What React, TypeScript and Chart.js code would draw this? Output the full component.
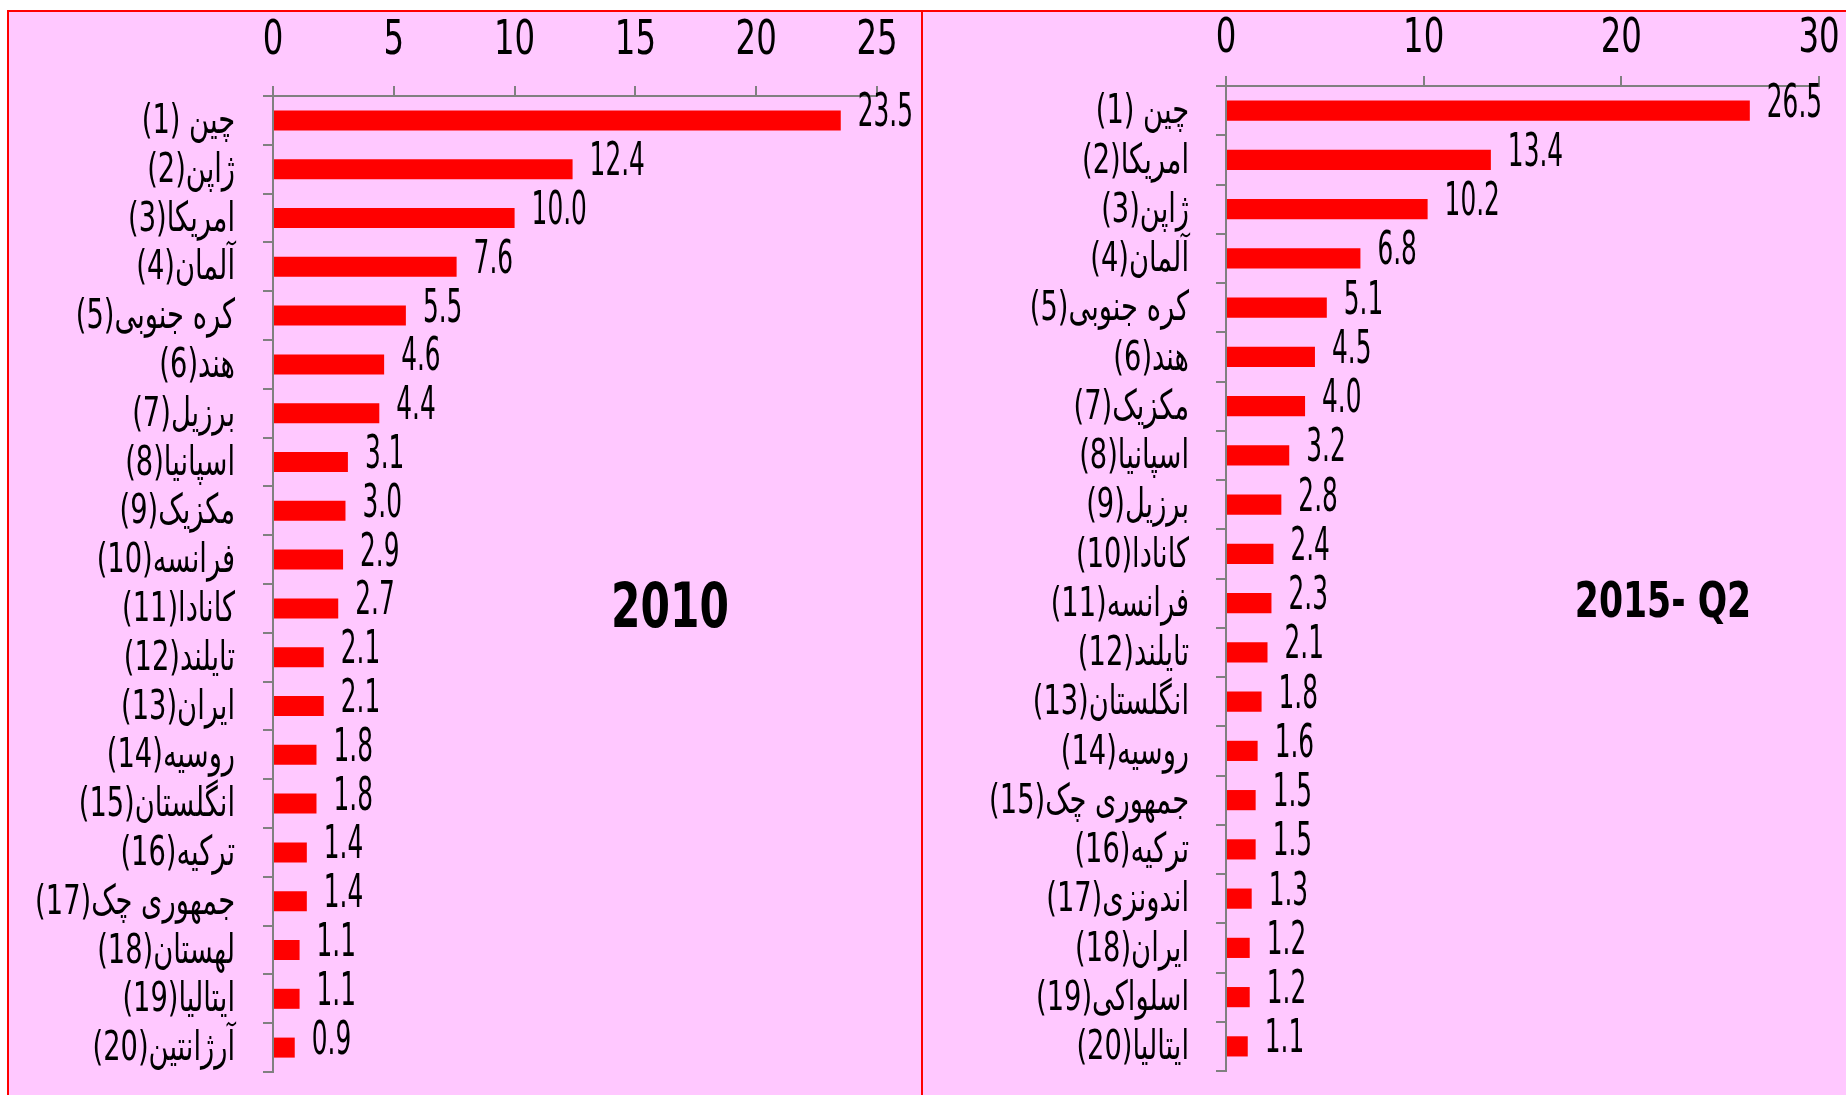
import React, { useEffect, useRef } from "react";
import { Chart, registerables } from "chart.js";

Chart.register(...registerables);

// ---- Data: 2010 ----
const categories2010 = [
  "(1) چین",
  "(2)ژاپن",
  "(3)امریکا",
  "(4)آلمان",
  "(5)کره جنوبی",
  "(6)هند",
  "(7)برزیل",
  "(8)اسپانیا",
  "(9)مکزیک",
  "(10)فرانسه",
  "(11)کانادا",
  "(12)تایلند",
  "(13)ایران",
  "(14)روسیه",
  "(15)انگلستان",
  "(16)ترکیه",
  "(17)جمهوری چک",
  "(18)لهستان",
  "(19)ایتالیا",
  "(20)آرژانتین",
];
const values2010 = [23.5, 12.4, 10.0, 7.6, 5.5, 4.6, 4.4, 3.1, 3.0, 2.9, 2.7, 2.1, 2.1, 1.8, 1.8, 1.4, 1.4, 1.1, 1.1, 0.9];
const axisMax2010 = 25;
const axisStep2010 = 5;

// ---- Data: 2015 Q2 ----
const categories2015 = [
  "(1) چین",
  "(2)امریکا",
  "(3)ژاپن",
  "(4)آلمان",
  "(5)کره جنوبی",
  "(6)هند",
  "(7)مکزیک",
  "(8)اسپانیا",
  "(9)برزیل",
  "(10)کانادا",
  "(11)فرانسه",
  "(12)تایلند",
  "(13)انگلستان",
  "(14)روسیه",
  "(15)جمهوری چک",
  "(16)ترکیه",
  "(17)اندونزی",
  "(18)ایران",
  "(19)اسلواکی",
  "(20)ایتالیا",
];
const values2015 = [26.5, 13.4, 10.2, 6.8, 5.1, 4.5, 4.0, 3.2, 2.8, 2.4, 2.3, 2.1, 1.8, 1.6, 1.5, 1.5, 1.3, 1.2, 1.2, 1.1];
const axisMax2015 = 30;
const axisStep2015 = 10;

const panelTitle2010 = "2010";
const panelTitle2015 = "2015- Q2";

const FONT = "'DejaVu Sans Condensed', 'DejaVu Sans', sans-serif";
const PINK = "#FFC8FF";
const AXIS_GRAY = "#808080";

function drawSqueezed(ctx: any, text: string, x: number, y: number, sx: number) {
  ctx.save();
  ctx.translate(x, y);
  ctx.scale(sx, 1);
  ctx.fillText(text, 0, 0);
  ctx.restore();
}

const valueLabelPlugin = {
  id: "valueLabels",
  afterDatasetsDraw(chart: any) {
    const ctx = chart.ctx;
    const meta = chart.getDatasetMeta(0);
    const data = chart.data.datasets[0].data as number[];
    ctx.save();
    ctx.font = `46px ${FONT}`;
    ctx.fillStyle = "#000";
    ctx.textBaseline = "middle";
    ctx.textAlign = "left";
    meta.data.forEach((bar: any, i: number) => {
      drawSqueezed(ctx, Number(data[i]).toFixed(1), bar.x + 17, bar.y - 6, 0.6);
    });
    ctx.restore();
  },
};

const axisLabelPlugin = {
  id: "axisLabels",
  afterDraw(chart: any, _args: any, opts: any) {
    const ctx = chart.ctx;
    const xs = chart.scales.x;
    const ys = chart.scales.y;
    ctx.save();
    ctx.fillStyle = "#000";
    ctx.textBaseline = "middle";
    ctx.font = `48px ${FONT}`;
    ctx.textAlign = "center";
    xs.ticks.forEach((t: any, i: number) => {
      drawSqueezed(ctx, String(t.label ?? t.value), xs.getPixelForTick(i), opts.xLabelY, 0.75);
    });
    ctx.font = `41px ${FONT}`;
    ctx.textAlign = "right";
    ys.ticks.forEach((t: any, i: number) => {
      const label = ys.getLabelForValue(t.value);
      drawSqueezed(ctx, label, ys.right - 10 - opts.yPad, ys.getPixelForTick(i) + 2, 0.74);
    });
    ctx.restore();
  },
};

type PanelProps = {
  labels: string[];
  values: number[];
  max: number;
  step: number;
  width: number;
  height: number;
  yWidth: number;
  xHeight: number;
  padRight: number;
  padBottom: number;
  xLabelY: number;
  yPad: number;
};

function BarPanel(p: PanelProps) {
  const ref = useRef<HTMLCanvasElement | null>(null);
  useEffect(() => {
    if (!ref.current) return;
    const chart = new Chart(ref.current, {
      type: "bar",
      data: {
        labels: p.labels,
        datasets: [
          {
            data: p.values,
            backgroundColor: "#FF0000",
            borderWidth: 0,
            categoryPercentage: 1,
            barPercentage: 0.41,
          },
        ],
      },
      options: {
        indexAxis: "y",
        responsive: false,
        animation: false,
        devicePixelRatio: 1,
        layout: { padding: { left: 0, top: 0, right: p.padRight, bottom: p.padBottom } },
        plugins: {
          legend: { display: false },
          tooltip: { enabled: false },
          title: { display: false },
          axisLabels: { xLabelY: p.xLabelY, yPad: p.yPad },
        },
        scales: {
          x: {
            position: "top",
            min: 0,
            max: p.max,
            afterFit: (s: any) => {
              s.height = p.xHeight;
              s.paddingLeft = 0;
              s.paddingRight = 0;
            },
            ticks: { stepSize: p.step, display: false },
            grid: {
              drawOnChartArea: false,
              drawTicks: true,
              tickLength: 10,
              color: AXIS_GRAY,
              lineWidth: 2,
            },
            border: { display: true, color: AXIS_GRAY, width: 2 },
          },
          y: {
            afterFit: (s: any) => {
              s.width = p.yWidth;
              s.paddingTop = 0;
              s.paddingBottom = 0;
            },
            ticks: { display: false, autoSkip: false },
            grid: {
              drawOnChartArea: false,
              drawTicks: true,
              tickLength: 10,
              color: AXIS_GRAY,
              lineWidth: 2,
              offset: true,
            },
            border: { display: true, color: AXIS_GRAY, width: 2 },
          },
        },
      } as any,
      plugins: [valueLabelPlugin, axisLabelPlugin],
    });
    return () => chart.destroy();
  }, []);
  return (
    <canvas
      ref={ref}
      width={p.width}
      height={p.height}
      style={{ position: "absolute", left: 0, top: 0, width: p.width, height: p.height }}
    />
  );
}

const bigLabelStyle: React.CSSProperties = {
  position: "absolute",
  width: 300,
  height: 80,
  lineHeight: "80px",
  textAlign: "center",
  fontFamily: FONT,
  fontWeight: "bold",
  color: "#000",
  whiteSpace: "nowrap",
};

export default function App() {
  return (
    <div
      style={{
        position: "fixed",
        left: 0,
        top: 0,
        width: 1846,
        height: 1095,
        overflow: "hidden",
        background: "#fff",
      }}
    >
      <div
        style={{
          position: "absolute",
          left: 7,
          top: 10,
          width: 914,
          height: 1200,
          boxSizing: "border-box",
          background: PINK,
          borderTop: "2px solid #FF0000",
          borderLeft: "2px solid #FF0000",
        }}
      >
        <BarPanel
          labels={categories2010}
          values={values2010}
          max={axisMax2010}
          step={axisStep2010}
          width={912}
          height={1083}
          yWidth={264}
          xHeight={84}
          padRight={44}
          padBottom={23}
          xLabelY={30}
          yPad={28}
        />
        <div
          style={{
            ...bigLabelStyle,
            left: 670 - 9 - 150,
            top: 606 - 12 - 40,
            fontSize: 62,
            transform: "scaleX(0.76)",
          }}
        >
          {panelTitle2010}
        </div>
      </div>
      <div
        style={{
          position: "absolute",
          left: 921,
          top: 10,
          width: 1000,
          height: 1200,
          boxSizing: "border-box",
          background: PINK,
          borderTop: "2px solid #FF0000",
          borderLeft: "2px solid #FF0000",
        }}
      >
        <BarPanel
          labels={categories2015}
          values={values2015}
          max={axisMax2015}
          step={axisStep2015}
          width={923}
          height={1083}
          yWidth={303}
          xHeight={74}
          padRight={27}
          padBottom={24}
          xLabelY={28}
          yPad={27}
        />
        <div
          style={{
            ...bigLabelStyle,
            left: 1663 - 923 - 150,
            top: 600 - 12 - 40,
            fontSize: 50,
            transform: "scaleX(0.77)",
          }}
        >
          {panelTitle2015}
        </div>
      </div>
    </div>
  );
}
